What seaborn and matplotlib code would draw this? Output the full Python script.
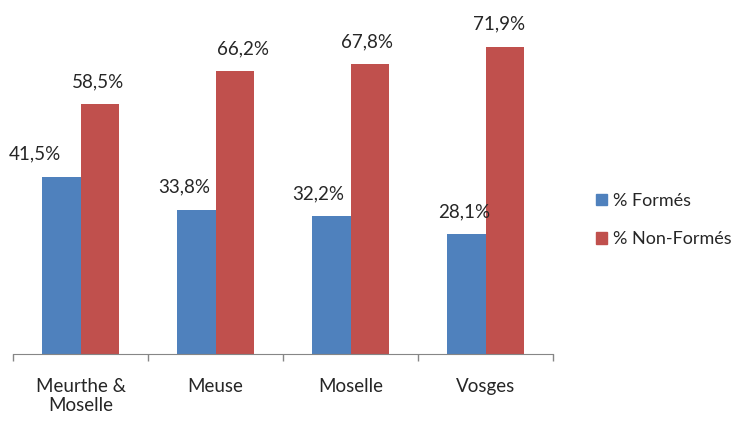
import pandas as pd
import matplotlib
matplotlib.use('Agg')
import matplotlib.pyplot as plt
from matplotlib.patches import Patch
import seaborn as sns
import numpy as np

departements = ['Meurthe &\nMoselle', 'Meuse', 'Moselle', 'Vosges']
formes = [41.5, 33.8, 32.2, 28.1]
non_formes = [58.5, 66.2, 67.8, 71.9]
series = ['% Formés', '% Non-Formés']
couleurs = ['#4F81BD', '#C0504D']

# decalage horizontal des etiquettes (px), comme dans l'original
decalages = [[-26, -12, -13, -2], [-2, 8, -3, -6]]

df = pd.DataFrame({
    'dep': departements * 2,
    'val': formes + non_formes,
    'serie': [series[0]] * 4 + [series[1]] * 4,
})

sns.set_style('white')
plt.rcParams['font.family'] = ['Lato', 'DejaVu Sans']

fig = plt.figure(figsize=(7.4, 4.21), dpi=100)
ax = fig.add_axes([13 / 740, 67 / 421, 540 / 740, 342 / 421])
sns.barplot(data=df, x='dep', y='val', hue='serie', palette=couleurs,
            width=0.57, saturation=1, linewidth=0, ax=ax, legend=False)

for cont, dec in zip(ax.containers, decalages):
    for b, dx in zip(cont, dec):
        txt = ('%.1f%%' % b.get_height()).replace('.', ',')
        ax.annotate(txt, (b.get_x() + b.get_width() / 2, b.get_height()),
                    xytext=(dx * 0.72, 10), textcoords='offset points',
                    ha='center', va='bottom', fontsize=13.5, color='#262626')

ax.set_ylim(0, 80)
ax.set_xlim(-0.5, 3.5)
ax.set_xlabel('')
ax.set_ylabel('')
ax.set_yticks([])
for s in ['left', 'right', 'top']:
    ax.spines[s].set_visible(False)
ax.spines['bottom'].set_color('#868686')
ax.tick_params(axis='x', which='major', bottom=False, length=0, pad=17,
               labelsize=13.5, labelcolor='#262626')
ax.set_xticks(np.arange(-0.5, 4, 1), minor=True)
ax.tick_params(axis='x', which='minor', bottom=True, length=5, width=1,
               color='#868686', direction='out')

handles = [Patch(color=c, label=l) for c, l in zip(couleurs, series)]
fig.legend(handles=handles, loc='center left', bbox_to_anchor=(596 / 740, 1 - 220 / 421),
           frameon=False, fontsize=13, handlelength=0.6, handleheight=0.6,
           handletextpad=0.35, labelspacing=1.25, borderpad=0, borderaxespad=0,
           labelcolor='#262626')

fig.savefig('out.png', dpi=100)
plt.close('all')
